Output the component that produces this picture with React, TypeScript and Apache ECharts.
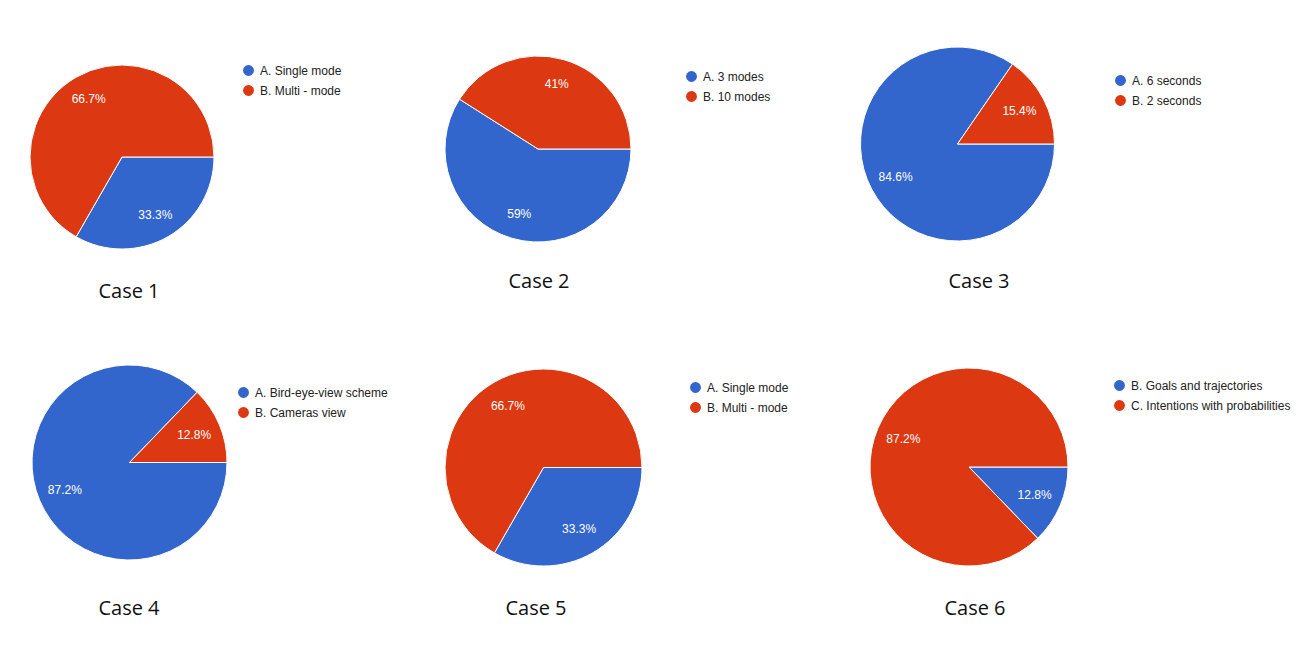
import React, { useEffect, useRef } from "react";
import * as echarts from "echarts";

const caseTitles = ["Case 1", "Case 2", "Case 3", "Case 4", "Case 5", "Case 6"];

const names1 = ["A. Single mode", "B. Multi - mode"];
const values1 = [33.3, 66.7];
const names2 = ["A. 3 modes", "B. 10 modes"];
const values2 = [59, 41];
const names3 = ["A. 6 seconds", "B. 2 seconds"];
const values3 = [84.6, 15.4];
const names4 = ["A. Bird-eye-view scheme", "B. Cameras view"];
const values4 = [87.2, 12.8];
const names5 = ["A. Single mode", "B. Multi - mode"];
const values5 = [33.3, 66.7];
const names6 = ["B. Goals and trajectories", "C. Intentions with probabilities"];
const values6 = [12.8, 87.2];

const allNames = [names1, names2, names3, names4, names5, names6];
const allValues = [values1, values2, values3, values4, values5, values6];

const BLUE = "#3366cc";
const RED = "#dc3912";
const sliceColors = [BLUE, RED];

// layout (pixels)
const pieCenters: [number, number][] = [
  [122, 157],
  [538, 149],
  [957.5, 144],
  [129.5, 462.5],
  [543.5, 467.5],
  [969, 467],
];
const pieRadii = [92, 93, 97, 97.5, 98.5, 99];
const legendPos: [number, number][] = [
  [236, 58],
  [679, 64],
  [1108, 68],
  [231, 380],
  [683, 375],
  [1107, 373],
];
const titlePos: [number, number][] = [
  [129, 290],
  [539, 280],
  [979, 280],
  [129, 607],
  [536, 607],
  [975, 607],
];

export default function App() {
  const ref = useRef<HTMLDivElement>(null);
  useEffect(() => {
    if (!ref.current) return;
    const chart = echarts.init(ref.current, null, { renderer: "svg" });
    const series: any[] = [];
    const legends: any[] = [];
    allNames.forEach((names, i) => {
      const vals = allValues[i];
      const r = pieRadii[i];
      series.push({
        type: "pie",
        center: pieCenters[i],
        radius: [0, r],
        startAngle: 0,
        clockwise: true,
        silent: true,
        label: { show: false },
        labelLine: { show: false },
        itemStyle: { borderColor: "#ffffff", borderWidth: 1 },
        data: names.map((n, j) => ({
          name: n,
          value: vals[j],
          itemStyle: { color: sliceColors[j] },
        })),
      });
      series.push({
        type: "pie",
        center: pieCenters[i],
        radius: [r * 0.38, r],
        startAngle: 0,
        clockwise: true,
        silent: true,
        avoidLabelOverlap: false,
        label: {
          show: true,
          position: "inside",
          formatter: "{c}%",
          color: "#ffffff",
          fontSize: 12,
          fontFamily: "Liberation Sans, Arial, sans-serif",
        },
        labelLine: { show: false },
        itemStyle: { color: "rgba(0,0,0,0)", borderWidth: 0 },
        data: names.map((n, j) => ({ name: n, value: vals[j] })),
      });
      legends.push({
        orient: "vertical",
        left: legendPos[i][0],
        top: legendPos[i][1],
        icon: "circle",
        itemWidth: 13,
        itemHeight: 13,
        itemGap: 5,
        selectedMode: false,
        data: names.map((n, j) => ({ name: n, itemStyle: { color: sliceColors[j] } })),
        textStyle: {
          color: "#222222",
          fontSize: 12,
          lineHeight: 13,
          fontFamily: "Liberation Sans, Arial, sans-serif",
        },
      });
    });
    const graphics = caseTitles.map((t, i) => ({
      type: "text",
      x: titlePos[i][0],
      y: titlePos[i][1],
      style: {
        text: t,
        fill: "#111111",
        fontSize: 20,
        fontFamily: "Open Sans, sans-serif",
        align: "center",
        verticalAlign: "middle",
      },
    }));
    chart.setOption({
      animation: false,
      backgroundColor: "#ffffff",
      legend: legends,
      series,
      graphic: graphics,
    });
    return () => chart.dispose();
  }, []);
  return (
    <div
      ref={ref}
      style={{ position: "fixed", left: 0, top: 0, width: 1316, height: 658 }}
    />
  );
}
